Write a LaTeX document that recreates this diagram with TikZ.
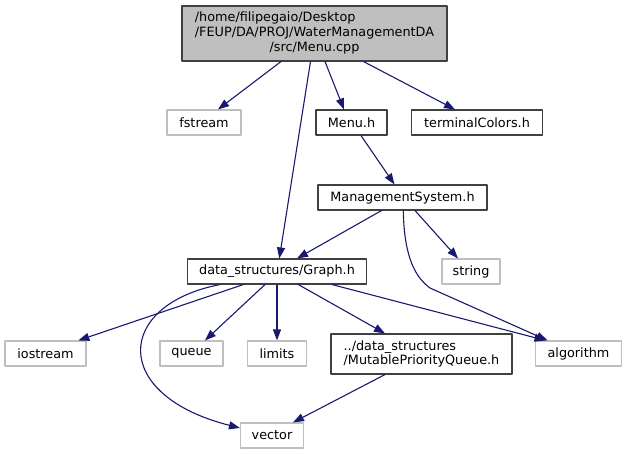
\documentclass[tikz,border=0pt]{standalone}
\usepackage{fontspec}
\setmainfont{DejaVu Sans}
\usetikzlibrary{arrows.meta}
\definecolor{edgeblue}{RGB}{25,25,112}
\definecolor{sysgray}{RGB}{191,191,191}
\definecolor{boxborder}{RGB}{64,64,64}

\begin{document}
\begin{tikzpicture}[x=1pt, y=-1pt, font=\fontsize{12.8}{14.8}\selectfont, line join=round,
	box/.style={draw=boxborder, line width=1.1pt, inner sep=0pt, minimum height=25pt},
	sysbox/.style={box, draw=sysgray},
	edge/.style={draw=edgeblue, line width=1.1pt, -{Triangle[length=11pt,width=8pt]}}]
	\useasboundingbox (0,0) rectangle (627,455);
	
	% Tệp gốc
	\node[box, fill=sysgray, minimum width=265pt, minimum height=55pt] (menucpp) at (314.5,33.5)
		{\begin{tabular}{@{}c@{}}\multicolumn{1}{@{}l@{}}{/home/filipegaio/Desktop}\\/FEUP/DA/PROJ/WaterManagementDA\\/src/Menu.cpp\end{tabular}};
	
	% Các header của dự án
	\node[box, minimum width=71pt] (menuh) at (351.5,122.5) {Menu.h};
	\node[box, minimum width=131pt] (colors) at (477,122.5) {terminalColors.h};
	\node[box, minimum width=169pt] (mgmt) at (402.5,197.5) {ManagementSystem.h};
	\node[box, minimum width=179pt] (graph) at (277,271.5) {data\_structures/Graph.h};
	\node[box, minimum width=181pt, minimum height=40pt, align=left] (mpq) at (421.5,354)
		{../data\_structures\\/MutablePriorityQueue.h};
	
	% Các header hệ thống
	\node[sysbox, minimum width=74pt] (fstream) at (204,122.5) {fstream};
	\node[sysbox, minimum width=58pt] (string) at (471,271.5) {string};
	\node[sysbox, minimum width=81pt] (iostream) at (45.5,353.5) {iostream};
	\node[sysbox, minimum width=63pt] (queue) at (191.5,353.5) {queue};
	\node[sysbox, minimum width=59pt] (limits) at (277,353.5) {limits};
	\node[sysbox, minimum width=86pt] (algorithm) at (578.5,353.5) {algorithm};
	\node[sysbox, minimum width=63pt] (vector) at (272,435.5) {vector};
	
	% Các mũi tên include
	\draw[edge] ([xshift=-33.5pt]menucpp.south) -- ([xshift=14pt]fstream.north);
	\draw[edge] ([xshift=-4pt]menucpp.south) -- ([xshift=2.3pt]graph.north);
	\draw[edge] ([xshift=10.5pt]menucpp.south) -- ([xshift=-7.5pt]menuh.north);
	\draw[edge] ([xshift=49pt]menucpp.south) -- ([xshift=-22pt]colors.north);
	\draw[edge] ([xshift=9.5pt]menuh.south) -- ([xshift=-8pt]mgmt.north);
	\draw[edge] ([xshift=-21pt]mgmt.south) -- ([xshift=20pt]graph.north);
	\draw[edge] ([xshift=12.5pt]mgmt.south) -- ([xshift=-13pt]string.north);
	\draw[edge] ([xshift=0.8pt]mgmt.south) .. controls (404,250) and (412,275) .. (430,288)
		-- ([xshift=-31pt]algorithm.north);
	\draw[edge] ([xshift=-33.7pt]graph.south) -- ([xshift=32.8pt]iostream.north);
	\draw[edge] ([xshift=-57pt]graph.south) .. controls (115,305) and (110,395) .. ([yshift=7.5pt]vector.west);
	\draw[edge] ([xshift=-12pt]graph.south) -- ([xshift=13.5pt]queue.north);
	\draw[edge] (graph.south) -- (limits.north);
	\draw[edge] ([xshift=21.3pt]graph.south) -- ([xshift=-36.5pt]mpq.north);
	\draw[edge] ([xshift=55pt]graph.south) -- ([xshift=-33pt]algorithm.north);
	\draw[edge] ([xshift=-36.5pt]mpq.south) -- ([xshift=21pt]vector.north);
\end{tikzpicture}
\end{document}
